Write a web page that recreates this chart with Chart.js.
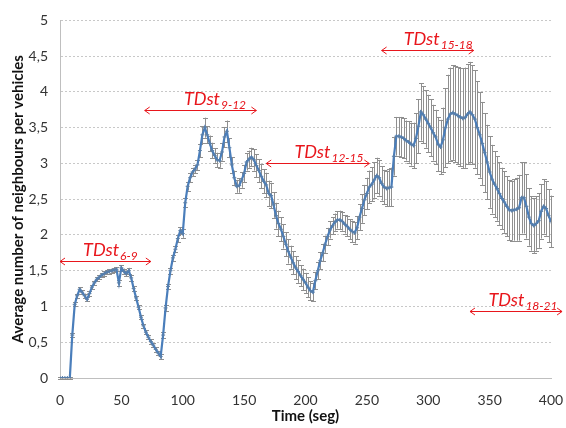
<!DOCTYPE html>
<html><head><meta charset="utf-8">
<script src="https://cdn.jsdelivr.net/npm/chart.js@4"></script>
<style>html,body{margin:0;padding:0;background:#fff}#wrap{width:566px;height:428px}</style>
</head><body><div id="wrap"><canvas id="c" width="566" height="428"></canvas></div>
<script>
const times = [0,2,4,6,8,10,12,14,16,18,20,22,24,26,28,30,32,34,36,38,40,42,44,46,48,50,52,54,56,58,60,62,64,66,68,70,72,74,76,78,80,82,84,86,88,90,92,94,96,98,100,102,104,106,108,110,112,114,116,118,120,122,124,126,128,130,132,134,136,138,140,142,144,146,148,150,152,154,156,158,160,162,164,166,168,170,172,174,176,178,180,182,184,186,188,190,192,194,196,198,200,202,204,206,208,210,212,214,216,218,220,222,224,226,228,230,232,234,236,238,240,242,244,246,248,250,252,254,256,258,260,262,264,266,268,270,272,274,276,278,280,282,284,286,288,290,292,294,296,298,300,302,304,306,308,310,312,314,316,318,320,322,324,326,328,330,332,334,336,338,340,342,344,346,348,350,352,354,356,358,360,362,364,366,368,370,372,374,376,378,380,382,384,386,388,390,392,394,396,398,400];
const avgNeighbours = [0,0,0,0,0,0.6,1.03,1.15,1.24,1.20,1.15,1.10,1.18,1.27,1.33,1.38,1.41,1.44,1.46,1.48,1.49,1.50,1.51,1.52,1.33,1.54,1.49,1.46,1.50,1.40,1.25,1.12,0.99,0.85,0.73,0.64,0.57,0.51,0.46,0.40,0.35,0.30,0.60,0.98,1.28,1.50,1.68,1.80,1.95,2.06,2.02,2.45,2.68,2.80,2.88,2.92,2.98,3.18,3.40,3.50,3.40,3.28,3.18,3.11,3.05,3.04,3.16,3.37,3.45,3.22,2.98,2.80,2.68,2.69,2.77,2.86,3.02,3.06,3.09,3.05,2.97,2.90,2.82,2.75,2.70,2.58,2.55,2.42,2.27,2.16,2.08,1.98,1.87,1.77,1.69,1.61,1.54,1.49,1.43,1.38,1.33,1.27,1.22,1.20,1.36,1.50,1.64,1.75,1.87,1.98,2.07,2.13,2.18,2.21,2.21,2.19,2.15,2.12,2.08,2.05,2.03,2.10,2.25,2.37,2.49,2.58,2.67,2.71,2.77,2.83,2.80,2.72,2.67,2.65,2.66,2.67,3.10,3.38,3.38,3.37,3.35,3.32,3.30,3.27,3.25,3.35,3.52,3.72,3.68,3.62,3.56,3.50,3.43,3.37,3.27,3.23,3.33,3.50,3.62,3.69,3.71,3.69,3.67,3.65,3.63,3.64,3.69,3.72,3.68,3.62,3.50,3.40,3.28,3.15,3.02,2.88,2.78,2.71,2.65,2.58,2.51,2.46,2.40,2.35,2.34,2.35,2.36,2.38,2.52,2.52,2.40,2.25,2.16,2.13,2.16,2.20,2.33,2.40,2.37,2.27,2.19];
const stdDev = [0.01,0.01,0.01,0.01,0.01,0.03,0.03,0.03,0.03,0.03,0.03,0.03,0.03,0.03,0.03,0.03,0.03,0.03,0.03,0.03,0.03,0.03,0.03,0.03,0.04,0.04,0.04,0.04,0.04,0.04,0.03,0.03,0.03,0.03,0.03,0.03,0.03,0.03,0.03,0.03,0.03,0.03,0.04,0.04,0.04,0.04,0.04,0.04,0.05,0.05,0.06,0.06,0.06,0.06,0.06,0.06,0.07,0.09,0.12,0.14,0.12,0.11,0.11,0.10,0.10,0.10,0.12,0.14,0.15,0.13,0.11,0.10,0.09,0.10,0.11,0.12,0.12,0.12,0.13,0.15,0.16,0.16,0.17,0.17,0.17,0.18,0.18,0.18,0.18,0.18,0.17,0.17,0.17,0.17,0.16,0.16,0.16,0.16,0.15,0.15,0.14,0.14,0.13,0.13,0.12,0.12,0.12,0.12,0.12,0.12,0.12,0.12,0.12,0.12,0.13,0.13,0.13,0.14,0.14,0.15,0.15,0.16,0.18,0.20,0.21,0.22,0.23,0.24,0.25,0.25,0.25,0.24,0.24,0.25,0.26,0.27,0.27,0.27,0.27,0.28,0.28,0.28,0.29,0.30,0.32,0.35,0.38,0.40,0.40,0.40,0.40,0.40,0.39,0.38,0.38,0.38,0.45,0.55,0.62,0.65,0.66,0.67,0.68,0.69,0.70,0.70,0.70,0.70,0.69,0.68,0.65,0.60,0.58,0.55,0.52,0.50,0.48,0.46,0.45,0.44,0.43,0.43,0.42,0.42,0.42,0.43,0.44,0.46,0.50,0.50,0.45,0.40,0.38,0.38,0.38,0.38,0.38,0.38,0.38,0.37,0.36];
const xTicks = [0,50,100,150,200,250,300,350,400];
const yTicks = [0,0.5,1,1.5,2,2.5,3,3.5,4,4.5,5];
const periodNames = ['6-9','9-12','12-15','15-18','18-21'];
const periodFrom = [0,69,168,262,334];
const periodTo = [74,160,252,337,409];
const periodLevel = [1.63,3.75,3.0,4.59,0.93];
const periodTextAt = [18.8,101,191,280,349];

const FONT = 'Lato, "Open Sans", sans-serif';
Chart.defaults.font.family = FONT;

const errorBars = {
  id: 'errorBars',
  beforeDatasetsDraw(chart) {
    const xs = chart.scales.x, ys = chart.scales.y, ctx = chart.ctx;
    ctx.save();
    ctx.strokeStyle = '#8f8f8f';
    ctx.lineWidth = 1;
    ctx.beginPath();
    for (let i = 0; i < times.length; i++) {
      const px = Math.round(xs.getPixelForValue(times[i])) + 0.5;
      const t = ys.getPixelForValue(avgNeighbours[i] + stdDev[i]);
      const b = ys.getPixelForValue(avgNeighbours[i] - stdDev[i]);
      ctx.moveTo(px, t); ctx.lineTo(px, b);
      ctx.moveTo(px - 2.5, Math.round(t) + 0.5); ctx.lineTo(px + 2.5, Math.round(t) + 0.5);
      ctx.moveTo(px - 2.5, Math.round(b) + 0.5); ctx.lineTo(px + 2.5, Math.round(b) + 0.5);
    }
    ctx.stroke();
    ctx.restore();
  }
};

const periods = {
  id: 'periods',
  afterDraw(chart) {
    const xs = chart.scales.x, ys = chart.scales.y, ctx = chart.ctx;
    ctx.save();
    const red = '#e8161c';
    ctx.strokeStyle = red; ctx.fillStyle = red; ctx.lineWidth = 1;
    for (let i = 0; i < periodNames.length; i++) {
      const x1 = xs.getPixelForValue(periodFrom[i]);
      const x2 = xs.getPixelForValue(periodTo[i]);
      const y = Math.round(ys.getPixelForValue(periodLevel[i])) + 0.5;
      ctx.beginPath();
      ctx.moveTo(x1, y); ctx.lineTo(x2, y);
      ctx.moveTo(x1 + 5, y - 3.5); ctx.lineTo(x1, y); ctx.lineTo(x1 + 5, y + 3.5);
      ctx.moveTo(x2 - 5, y - 3.5); ctx.lineTo(x2, y); ctx.lineTo(x2 - 5, y + 3.5);
      ctx.stroke();
      const tx = xs.getPixelForValue(periodTextAt[i]);
      ctx.textBaseline = 'alphabetic'; ctx.textAlign = 'left';
      ctx.font = 'italic 18px ' + FONT;
      ctx.fillText('TDst', tx, y - 6);
      const w = ctx.measureText('TDst').width;
      ctx.font = 'italic 12px ' + FONT;
      ctx.fillText(periodNames[i], tx + w + 1, y - 2);
    }
    ctx.restore();
  }
};

new Chart(document.getElementById('c'), {
  type: 'line',
  data: {
    datasets: [{
      data: times.map((t, i) => ({x: t, y: avgNeighbours[i]})),
      borderColor: '#4a7ebb',
      borderWidth: 2.2,
      pointStyle: 'cross',
      pointRadius: 2,
      pointBorderWidth: 1,
      pointBorderColor: '#5a7fa8',
      tension: 0,
      fill: false
    }]
  },
  options: {
    responsive: false,
    animation: false,
    layout: {padding: {left: 0, right: 15, top: 17, bottom: 0}},
    plugins: {legend: {display: false}, tooltip: {enabled: false}},
    scales: {
      x: {
        type: 'linear', min: 0, max: 400,
        afterBuildTicks(s) { s.ticks = xTicks.map(v => ({value: v})); },
        ticks: {color: '#333', font: {size: 14}, padding: 14},
        grid: {display: false, drawTicks: false},
        border: {color: '#bfbfbf'},
        title: {display: true, text: 'Time (seg)', color: '#111', font: {size: 15, weight: 'bold'}, padding: {top: 0, bottom: 3}},
        afterFit(s) { s.height = 50; s.paddingRight = 0; s.paddingLeft = 0; }
      },
      y: {
        min: 0, max: 5,
        afterBuildTicks(s) { s.ticks = yTicks.map(v => ({value: v})); },
        ticks: {color: '#333', font: {size: 14}, padding: 12, callback: v => String(v).replace('.', ',')},
        grid: {color: '#c8c8c8', drawTicks: false},
        border: {color: '#bfbfbf', dash: [2, 2]},
        title: {display: true, text: 'Average number of neighbours per vehicles', color: '#111', font: {size: 15, weight: 'bold'}, padding: {top: 9, bottom: 0}},
        afterFit(s) { s.width = 60; }
      }
    }
  },
  plugins: [errorBars, periods]
});
</script></body></html>
